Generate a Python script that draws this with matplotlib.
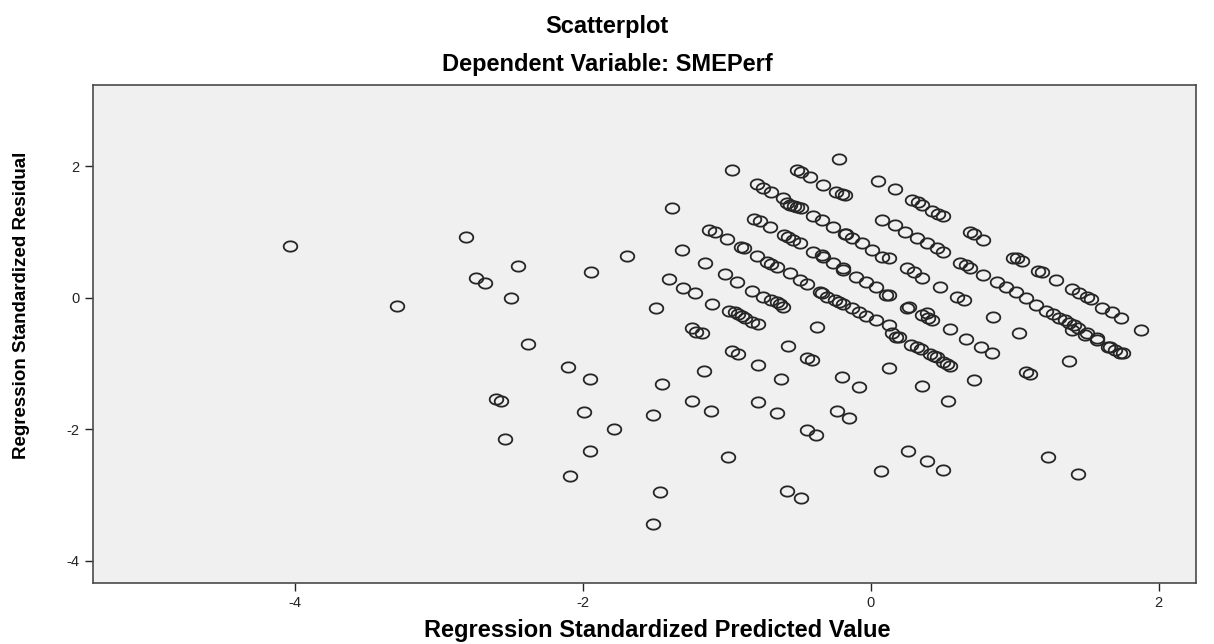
import numpy as np
import matplotlib
matplotlib.use("Agg")
import matplotlib.pyplot as plt
from matplotlib.path import Path

plt.rcParams["axes.unicode_minus"] = False

# Regression standardized predicted value / residual
pred = [
    -4.03, -3.29, -2.81, -2.74, -2.68, -2.45, -2.50, -2.38, -2.60, -2.57,
    -2.54, -2.10, -1.95, -1.99, -1.78, -1.95, -2.09, -1.94, -1.69, -1.38,
    -0.96, -1.31, -1.49, -1.40, -1.30, -1.22, -1.15, -1.10, -1.24, -1.21,
    -1.17, -0.98, -0.94, -0.92, -0.89, -0.87, -0.82, -0.78, -1.01, -0.93,
    -0.82, -0.75, -0.69, -0.65, -0.63, -0.61, -0.37,
    -1.12, -1.08, -1.00, -0.90, -0.88, -0.79, -0.72, -0.69, -0.65, -0.56,
    -0.49, -0.44, -0.34, -0.30, -0.25, -0.19,
    -0.79, -0.75, -0.69, -0.61, -0.58, -0.56, -0.53, -0.51, -0.48, -0.40,
    -0.34, -0.26, -0.18,
    -0.81, -0.77, -0.70, -0.60, -0.57, -0.54, -0.49, -0.40, -0.34, -0.26,
    -0.19,
    -0.51, -0.48, -0.42, -0.33, -0.24, -0.20, -0.18, -0.22,
    -1.45, -1.51, -1.46, -1.51, -1.24, -1.11, -1.16, -0.96, -0.92, -0.78,
    -0.99, -0.78, -0.65, -0.57, -0.62, -0.44, -0.41, -0.20, -0.23, -0.15,
    -0.44, -0.38, -0.58, -0.48,
    0.13, -0.08, 0.36, 0.54, 0.72, 1.08, 1.11, 1.38,
    0.26, 0.39, 0.50, 0.07, 1.23, 1.44,
    0.66, 0.77, 0.84, 1.03, 1.88, 0.85,
    0.15, 0.18, 0.20, 0.28, 0.32, 0.35, 0.41, 0.44, 0.46, 0.50,
    0.53, 0.55, 0.55,
    0.25, 0.36, 0.40, 0.43,
    1.40, 1.49, 1.57, 1.65, 1.70, 1.75, 1.22, 1.27, 1.31, 1.35,
    1.38, 1.41, 1.44, 1.50, 1.57, 1.66, 1.73,
    1.61, 1.68, 1.74,
    0.17, 0.29, 0.33, 0.36, 0.43, 0.47, 0.50, 0.69, 0.72, 0.78,
    0.99, 1.02, 1.05, 1.16, 1.19, 1.29, 1.40, 1.45, 1.50, 1.53,
    0.17, 0.24, 0.32, 0.39, 0.46, 0.50, 0.62, 0.66, 0.69, 0.78,
    0.88, 0.94, 1.01, 1.08, 1.15, 0.13, 0.25, 0.30, 0.36, 0.48,
    0.60, 0.65, 0.13, 0.27, 0.39,
    0.05, 0.08, -0.17, -0.13, -0.06, 0.01, 0.08, -0.33, -0.19, -0.10,
    -0.03, 0.04, 0.11, -0.35, -0.22, -0.13, -0.08, -0.03, 0.04, 0.13,
]
resid = [
    0.79, -0.12, 0.93, 0.30, 0.23, 0.49, 0.00, -0.70, -1.54, -1.57,
    -2.15, -1.05, -1.23, -1.74, -2.00, -2.33, -2.71, 0.40, 0.64, 1.37,
    1.95, 0.73, -0.15, 0.29, 0.15, 0.07, 0.53, -0.09, -0.46, -0.52,
    -0.53, -0.20, -0.22, -0.25, -0.28, -0.30, -0.36, -0.40, 0.36, 0.24,
    0.11, 0.02, -0.03, -0.06, -0.10, -0.14, -0.44,
    1.03, 1.00, 0.90, 0.78, 0.76, 0.64, 0.55, 0.52, 0.47, 0.38,
    0.27, 0.21, 0.08, 0.02, -0.03, -0.09,
    1.74, 1.67, 1.61, 1.52, 1.45, 1.42, 1.40, 1.39, 1.37, 1.25,
    1.19, 1.08, 0.97,
    1.20, 1.17, 1.08, 0.96, 0.93, 0.88, 0.84, 0.70, 0.65, 0.53,
    0.46,
    1.95, 1.92, 1.84, 1.72, 1.61, 1.58, 1.57, 2.12,
    -1.31, -1.78, -2.95, -3.44, -1.57, -1.72, -1.11, -0.81, -0.86, -1.02,
    -2.42, -1.58, -1.75, -0.74, -1.23, -0.91, -0.94, -1.20, -1.72, -1.83,
    -2.01, -2.09, -2.94, -3.04,
    -1.07, -1.35, -1.34, -1.57, -1.25, -1.13, -1.16, -0.96,
    -2.33, -2.48, -2.62, -2.63, -2.42, -2.68,
    -0.62, -0.75, -0.84, -0.53, -0.49, -0.29,
    -0.53, -0.59, -0.59, -0.72, -0.75, -0.78, -0.85, -0.88, -0.90, -0.97,
    -1.00, -1.04, -0.48,
    -0.15, -0.26, -0.30, -0.33,
    -0.49, -0.56, -0.64, -0.75, -0.79, -0.84, -0.20, -0.25, -0.30, -0.34,
    -0.38, -0.42, -0.46, -0.53, -0.61, -0.75, -0.84,
    -0.15, -0.21, -0.30,
    1.66, 1.49, 1.46, 1.42, 1.32, 1.28, 1.25, 1.00, 0.97, 0.88,
    0.61, 0.60, 0.56, 0.41, 0.39, 0.27, 0.14, 0.08, 0.02, -0.02,
    1.11, 1.00, 0.91, 0.84, 0.76, 0.70, 0.53, 0.50, 0.46, 0.35,
    0.24, 0.17, 0.09, 0.00, -0.11, 0.61, 0.46, 0.40, 0.30, 0.17,
    0.02, -0.03, 0.05, -0.14, -0.23,
    1.78, 1.19, 0.97, 0.91, 0.84, 0.73, 0.62, 0.62, 0.43, 0.32,
    0.24, 0.17, 0.05, 0.09, -0.06, -0.15, -0.21, -0.27, -0.33, -0.42,
]

ticks = [-4, -2, 0, 2]
sans = ["Liberation Sans", "DejaVu Sans"]

# SPSS circles come out slightly wider than tall in this export
t = np.linspace(0, 2 * np.pi, 60)
ellipse = Path(np.column_stack([1.32 * np.cos(t), np.sin(t)]))

fig = plt.figure(figsize=(12.14, 6.44), dpi=100)
ax = fig.add_axes([93 / 1214, 1 - 583 / 644, (1196 - 93) / 1214, (583 - 85) / 644])
ax.set_facecolor("#f0f0f0")

ax.plot(pred, resid, linestyle="none", marker=ellipse, markersize=9.8,
        markerfacecolor="none", markeredgecolor="#262626", markeredgewidth=1.3)

ax.set_xlim(-5.40, 2.26)
ax.set_ylim(-4.34, 3.24)
ax.set_xticks(ticks)
ax.set_yticks(ticks)
ax.tick_params(direction="out", length=6, width=1, color="#222222",
               labelsize=10.5, labelcolor="#222222")
for lbl in ax.get_xticklabels() + ax.get_yticklabels():
    lbl.set_family(sans)
for side in ax.spines:
    ax.spines[side].set_color("#4a4a4a")
    ax.spines[side].set_linewidth(1.2)

fig.text(0.5, 1 - 27 / 644, "Scatterplot", ha="center", va="center",
         fontsize=17, fontweight="bold", family=sans)
fig.text(0.5, 1 - 65 / 644, "Dependent Variable: SMEPerf", ha="center", va="center",
         fontsize=17, fontweight="bold", family=sans)
fig.text(657 / 1214, 1 - 631 / 644, "Regression Standardized Predicted Value",
         ha="center", va="center", fontsize=17, fontweight="bold", family=sans)
fig.text(22 / 1214, 1 - 305 / 644, "Regression Standardized Residual",
         ha="center", va="center", rotation=90, fontsize=13.5, fontweight="bold",
         family=sans)

fig.savefig("out.png", dpi=100, facecolor="white")
